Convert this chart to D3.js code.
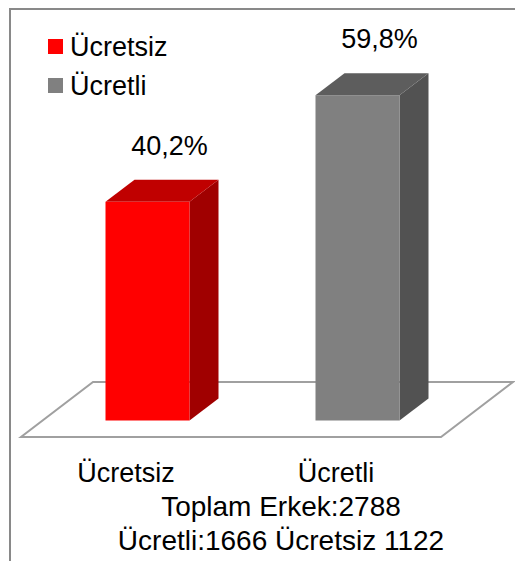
<!DOCTYPE html>
<html>
<head>
<meta charset="utf-8">
<script src="https://cdn.jsdelivr.net/npm/d3@7"></script>
<style>
  body { margin: 0; background: #fff; }
  text { font-family: "Liberation Sans", Arial, sans-serif; fill: #000; }
</style>
</head>
<body>
<div id="chart"></div>
<script>
var categories = ["Ücretsiz", "Ücretli"];
var values = [40.2, 59.8];
var valueLabels = ["40,2%", "59,8%"];
var frontColors = ["#ff0000", "#808080"];
var topColors = ["#c00000", "#5d5d5d"];
var sideColors = ["#a00000", "#525252"];
var titleLines = ["Toplam Erkek:2788", "Ücretli:1666 Ücretsiz 1122"];

var width = 515,
    height = 561;

// 3d offsets (floor and bar depth)
var floorDX = 72, floorDY = -55,
    barDX = 29, barDY = -22,
    shiftX = (floorDX - barDX) / 2,
    shiftY = (floorDY - barDY) / 2,
    floorFront = 437;

var svg = d3.select("#chart").append("svg")
  .attr("width", width)
  .attr("height", height);

// frame (only top and left edges visible)
svg.append("path")
  .attr("d", "M10," + height + "V9H" + width)
  .style("fill", "none")
  .style("stroke", "#898989")
  .style("stroke-width", 2);

var x = d3.scaleBand()
  .domain(categories)
  .range([21, 441])
  .paddingInner(0.6)
  .paddingOuter(0.3);

var y = d3.scaleLinear()
  .domain([0, 60])
  .range([floorFront + shiftY, floorFront + shiftY - 60 * 5.44]);

// floor
var fl = x.range();
svg.append("polygon")
  .attr("points", [
    [fl[0], floorFront], [fl[1], floorFront],
    [fl[1] + floorDX, floorFront + floorDY], [fl[0] + floorDX, floorFront + floorDY]
  ].join(" "))
  .style("fill", "#fff")
  .style("stroke", "#a0a0a0")
  .style("stroke-width", 2);

var bars = svg.selectAll(".bar")
  .data(categories)
  .enter()
  .append("g")
  .attr("class", "bar");

function x0(d) { return x(d) + shiftX; }
function x1(d) { return x(d) + shiftX + x.bandwidth(); }

bars.append("polygon")
  .attr("points", function(d, i) {
    var yt = y(values[i]), yb = y(0);
    return [[x1(d), yt], [x1(d) + barDX, yt + barDY], [x1(d) + barDX, yb + barDY], [x1(d), yb]].join(" ");
  })
  .style("fill", function(d, i) { return sideColors[i]; });

bars.append("polygon")
  .attr("points", function(d, i) {
    var yt = y(values[i]);
    return [[x0(d), yt], [x1(d), yt], [x1(d) + barDX, yt + barDY], [x0(d) + barDX, yt + barDY]].join(" ");
  })
  .style("fill", function(d, i) { return topColors[i]; });

bars.append("rect")
  .attr("x", x0)
  .attr("y", function(d, i) { return y(values[i]); })
  .attr("width", x.bandwidth())
  .attr("height", function(d, i) { return y(0) - y(values[i]); })
  .style("fill", function(d, i) { return frontColors[i]; });

// value labels
bars.append("text")
  .attr("x", function(d) { return x0(d) + x.bandwidth() / 2 + 22; })
  .attr("y", function(d, i) { return y(values[i]) - 47; })
  .attr("text-anchor", "middle")
  .style("font-size", "27px")
  .text(function(d, i) { return valueLabels[i]; });

// category labels
svg.selectAll(".cat")
  .data(categories)
  .enter()
  .append("text")
  .attr("class", "cat")
  .attr("x", function(d) { return x(d) + x.bandwidth() / 2; })
  .attr("y", 482)
  .attr("text-anchor", "middle")
  .style("font-size", "27px")
  .text(function(d) { return d; });

// legend
var legend = svg.selectAll(".legend")
  .data(categories)
  .enter()
  .append("g")
  .attr("class", "legend")
  .attr("transform", function(d, i) { return "translate(48," + (39 + i * 39) + ")"; });

legend.append("rect")
  .attr("width", 15)
  .attr("height", 15)
  .style("fill", function(d, i) { return frontColors[i]; });

legend.append("text")
  .attr("x", 22)
  .attr("y", 17)
  .style("font-size", "27px")
  .text(function(d) { return d; });

// title below chart
svg.selectAll(".title")
  .data(titleLines)
  .enter()
  .append("text")
  .attr("class", "title")
  .attr("x", 281)
  .attr("y", function(d, i) { return 516 + i * 34; })
  .attr("text-anchor", "middle")
  .style("font-size", "28px")
  .text(function(d) { return d; });
</script>
</body>
</html>
